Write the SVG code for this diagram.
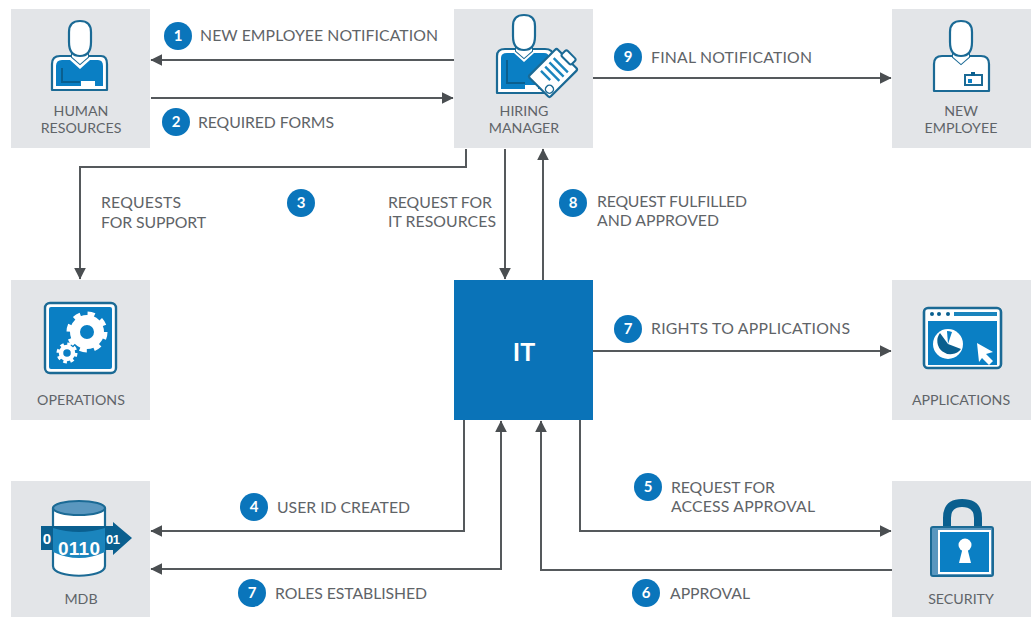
<svg xmlns="http://www.w3.org/2000/svg" width="1034" height="617" viewBox="0 0 1034 617">
<defs>
<style>
text{font-family:"Lato","Liberation Sans",sans-serif;fill:#5f6468}
.n{font-size:14.2px;text-anchor:middle}
.l{font-size:15.8px}
.b{font-size:15px;font-weight:700;fill:#fff;text-anchor:middle}
.box{fill:#e3e5e8}
.c{fill:none;stroke:#55595c;stroke-width:2}
.d{fill:#0a5f8f}.m{fill:#0a7fc4}.w{fill:#fff}
.ol{fill:#fff;stroke:#1b6a95;stroke-width:2.2;stroke-linejoin:round}
circle.badge{fill:#0a75bb}
.dig{font-family:"Liberation Sans",sans-serif;font-weight:700;fill:#fff;text-anchor:middle}
</style>
<marker id="a" viewBox="0 0 10 10" refX="9.5" refY="5" markerWidth="12" markerHeight="12" markerUnits="userSpaceOnUse" orient="auto-start-reverse"><path d="M0 0L10 5L0 10Z" fill="#4a4e51"/></marker>
<g id="head"><path fill="none" stroke="#1b6a95" stroke-width="2" d="M-8 29L-8 36L0 43L8 36V29"/><path class="w" d="M-8 29V36L0 43L8 36V29Z"/><path class="ol" d="M-11 11Q-11 0 0 0Q11 0 11 11V21Q11 35 0 35Q-11 35 -11 21Z"/></g>
</defs>
<rect width="1034" height="617" fill="#fff"/>
<g id="connectors">
<path class="c" marker-end="url(#a)" d="M454 60H151"/>
<path class="c" marker-end="url(#a)" d="M151 98H453"/>
<path class="c" marker-end="url(#a)" d="M593 78H891"/>
<path class="c" marker-end="url(#a)" d="M466 149V167H80V279"/>
<path class="c" marker-end="url(#a)" d="M505 149V279"/>
<path class="c" marker-end="url(#a)" d="M543 280V149"/>
<path class="c" marker-end="url(#a)" d="M593 351H891"/>
<path class="c" marker-end="url(#a)" d="M464 420V531H151"/>
<path class="c" marker-start="url(#a)" marker-end="url(#a)" d="M151 569H501V421"/>
<path class="c" marker-end="url(#a)" d="M892 570H541V421"/>
<path class="c" marker-end="url(#a)" d="M580 420V531H891"/>
</g>
<g id="hr">
<rect class="box" x="11" y="9" width="139" height="139"/>
<path class="ol" d="M52 90V64Q52 56 60 56H101Q107 56 107 64V90Z"/>
<path class="m" d="M56 86V66Q56 60 62 60H70L80 69L90 60H98Q103 60 103 66V86H95V81H81V86Z"/>
<path fill="none" stroke="#0a5f8f" stroke-width="2" d="M62 68V82H80"/>
<rect class="w" x="81" y="82" width="13" height="7"/>
<use href="#head" x="80" y="21"/>
<text class="n" x="81" y="116">HUMAN</text><text class="n" x="81" y="133">RESOURCES</text>
</g>
<g id="hiring-manager">
<rect class="box" x="454" y="9" width="139" height="139"/>
<path class="ol" d="M497 93V56Q497 49 505 49H545Q553 49 553 56V93Z"/>
<path class="m" d="M501 89V58Q501 53 507 53H514L524 62L534 53H544Q549 53 549 58V89H538V85H525V89Z"/>
<path fill="none" stroke="#0a5f8f" stroke-width="2" d="M507 60V83H525"/>
<rect class="w" x="525" y="85" width="13" height="7"/>
<use href="#head" x="524" y="15"/>
<g transform="rotate(45 553 73)">
<rect x="538" y="53" width="30" height="40" rx="2" fill="#fff" stroke="#1b6a95" stroke-width="2.2"/>
<rect x="546" y="47" width="14" height="8" rx="2" fill="#fff" stroke="#1b6a95" stroke-width="2"/>
<path fill="none" stroke="#1b85bd" stroke-width="2.4" d="M543 62H563M543 68H563M543 74H563M543 80H556"/>
<circle cx="562" cy="87" r="4" fill="#fff" stroke="#1b6a95" stroke-width="1.5"/>
</g>
<text class="n" x="524" y="116">HIRING</text><text class="n" x="524" y="133">MANAGER</text>
</g>
<g id="new-employee">
<rect class="box" x="892" y="9" width="139" height="139"/>
<path class="ol" d="M934 91V64Q934 56 942 56H981Q989 56 989 64V91Z"/>
<use href="#head" x="961" y="21"/>
<rect x="965" y="75" width="17" height="10" fill="#fff" stroke="#1b6a95" stroke-width="2"/>
<rect x="971" y="72" width="4" height="4" class="d"/><rect x="968" y="79" width="4" height="4" class="m"/>
<text class="n" x="961" y="116">NEW</text><text class="n" x="961" y="133">EMPLOYEE</text>
</g>
<g id="operations">
<rect class="box" x="11" y="280" width="139" height="140"/>
<rect x="45" y="303" width="71" height="70" rx="5" class="w" stroke="#1b6a95" stroke-width="2.4"/>
<rect x="49" y="307" width="63" height="62" rx="2" class="m"/>
<circle cx="87" cy="332" r="12" fill="none" stroke="#fff" stroke-width="10"/>
<circle cx="87" cy="332" r="18" fill="none" stroke="#fff" stroke-width="5" stroke-dasharray="7 7.14"/>
<circle cx="67" cy="353" r="9.5" fill="#0a7fc4" stroke="none"/>
<circle cx="67" cy="353" r="6" fill="none" stroke="#fff" stroke-width="4.5"/>
<circle cx="67" cy="353" r="9" fill="none" stroke="#fff" stroke-width="3" stroke-dasharray="3.6 3.47"/>
<text class="n" x="81" y="405">OPERATIONS</text>
</g>
<g id="it">
<rect x="454" y="280" width="139" height="140" fill="#0a73b8"/>
<text x="524" y="361" text-anchor="middle" style="font-size:25px;font-weight:700;fill:#fff">IT</text>
</g>
<g id="applications">
<rect class="box" x="892" y="280" width="139" height="140"/>
<rect x="924" y="308" width="77" height="60" rx="4" class="w" stroke="#1b6a95" stroke-width="2.6"/>
<rect x="928" y="321" width="69" height="44" class="m"/>
<circle cx="932" cy="314" r="2" class="d"/><circle cx="939" cy="314" r="2" class="d"/><circle cx="948" cy="314" r="2" class="d"/>
<rect x="954" y="312" width="43" height="4" fill="#1b85bd"/>
<circle cx="948" cy="344" r="15" class="w"/>
<path class="d" d="M948 344L961 349A13 13 0 1 1 940 333Z"/>
<path class="m" d="M948 344L947 331A13 13 0 0 1 952 332Z"/>
<path class="w" d="M977 343L993 352L986 354L993 361L989 365L982 358L979 362Z"/>
<text class="n" x="961" y="405">APPLICATIONS</text>
</g>
<g id="mdb">
<rect class="box" x="11" y="481" width="139" height="136"/>
<path class="ol" d="M53 508V566C53 579 105 579 105 566V508Z"/>
<ellipse cx="79" cy="508" rx="26" ry="7" fill="#5a97bf" stroke="#1b6a95" stroke-width="2.2"/>
<path class="d" d="M41 526H113V522L132 538L113 555V550H41Z"/>
<path fill="#1b85bd" d="M53 528Q79 536 105 528V552Q79 564 53 552Z"/>
<text class="dig" x="79" y="555" textLength="42" style="font-size:19px">0110</text>
<text class="dig" x="47" y="544" style="font-size:15px">0</text>
<text class="dig" x="113" y="544" textLength="14" style="font-size:13px">01</text>
<text class="n" x="81" y="604">MDB</text>
</g>
<g id="security">
<rect class="box" x="892" y="481" width="139" height="136"/>
<path fill="none" stroke="#0a5f8f" stroke-width="8" d="M947 530V518Q947 503 962 503Q978 503 978 518V530"/>
<rect x="931" y="527" width="62" height="49" rx="2" fill="#5a97bf" stroke="#1b6a95" stroke-width="2"/>
<rect x="939" y="531" width="51" height="42" class="m" stroke="#fff" stroke-width="2"/>
<circle cx="965" cy="545" r="6.5" class="w"/><path class="w" d="M963 547H967L971 563H959Z"/>
<text class="n" x="961" y="604">SECURITY</text>
</g>
<g id="badges">
<circle class="badge" cx="178" cy="36" r="14"/><text class="b" x="178" y="41">1</text>
<circle class="badge" cx="176" cy="122" r="14"/><text class="b" x="176" y="127">2</text>
<circle class="badge" cx="301" cy="203" r="14"/><text class="b" x="301" y="208">3</text>
<circle class="badge" cx="254" cy="507" r="14"/><text class="b" x="254" y="512">4</text>
<circle class="badge" cx="648" cy="487" r="14"/><text class="b" x="648" y="492">5</text>
<circle class="badge" cx="646" cy="593" r="14"/><text class="b" x="646" y="598">6</text>
<circle class="badge" cx="628" cy="329" r="14"/><text class="b" x="628" y="334">7</text>
<circle class="badge" cx="252" cy="593" r="14"/><text class="b" x="252" y="598">7</text>
<circle class="badge" cx="573" cy="203" r="14"/><text class="b" x="573" y="208">8</text>
<circle class="badge" cx="628" cy="57" r="14"/><text class="b" x="628" y="62">9</text>
</g>
<g id="labels">
<text class="l" x="200" y="41" textLength="238">NEW EMPLOYEE NOTIFICATION</text>
<text class="l" x="198" y="128" textLength="136">REQUIRED FORMS</text>
<text class="l" x="651" y="63" textLength="161">FINAL NOTIFICATION</text>
<text class="l" x="101" y="208" textLength="80">REQUESTS</text>
<text class="l" x="101" y="228" textLength="105">FOR SUPPORT</text>
<text class="l" x="388" y="208" textLength="104">REQUEST FOR</text>
<text class="l" x="388" y="227" textLength="108">IT RESOURCES</text>
<text class="l" x="597" y="207" textLength="150">REQUEST FULFILLED</text>
<text class="l" x="597" y="226" textLength="122">AND APPROVED</text>
<text class="l" x="651" y="334" textLength="199">RIGHTS TO APPLICATIONS</text>
<text class="l" x="277" y="513" textLength="133">USER ID CREATED</text>
<text class="l" x="275" y="599" textLength="152">ROLES ESTABLISHED</text>
<text class="l" x="671" y="493" textLength="104">REQUEST FOR</text>
<text class="l" x="671" y="512" textLength="144">ACCESS APPROVAL</text>
<text class="l" x="670" y="599" textLength="80">APPROVAL</text>
</g>
</svg>
